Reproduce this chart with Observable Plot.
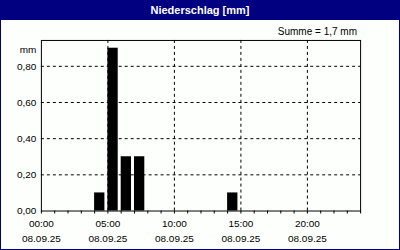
<!DOCTYPE html>
<html>
<head>
<meta charset="utf-8">
<script src="https://cdn.jsdelivr.net/npm/d3@7"></script>
<script src="https://cdn.jsdelivr.net/npm/@observablehq/plot@0.6"></script>
<style>
  html, body { margin: 0; padding: 0; background: #fff; }
  #frame { position: relative; width: 400px; height: 250px; box-sizing: border-box;
           border: 1px solid #000080; border-top: none; background: #fcfffc; overflow: hidden;
           font-family: "Liberation Sans", Arial, sans-serif; }
  #title { position: absolute; left: -1px; top: 0; width: 400px; height: 20px; background: #000080;
           color: #fff; font-weight: bold; font-size: 11px; line-height: 20px; text-align: center; }
  #sum { position: absolute; right: 42px; top: 25px; font-size: 10px; line-height: 13px; color: #000; }
  #chart { position: absolute; left: -1px; top: 20px; }
</style>
</head>
<body>
<div id="frame">
  <div id="title">Niederschlag [mm]</div>
  <div id="sum">Summe = 1,7 mm</div>
  <div id="chart"></div>
</div>
<script>
// Data
const hours = [4, 5, 6, 7, 14];               // start hour of each hourly interval
const precip = [0.1, 0.9, 0.3, 0.3, 0.1];     // mm
const hourTicks = [0,1,2,3,4,5,6,7,8,9,10,11,12,13,14,15,16,17,18,19,20,21,22,23,24];
const labelTicks = [0, 5, 10, 15, 20];
const timeLabels = ["00:00", "05:00", "10:00", "15:00", "20:00"];
const dateLabel = "08.09.25";
const yTicks = [0, 0.2, 0.4, 0.6, 0.8];
const yGrid = [0.2, 0.4, 0.6, 0.8];
const xGrid = [5, 10, 15, 20];

const data = hours.map((h, i) => ({start: h, end: h + 1, value: precip[i]}));
const fmtY = d => d.toFixed(2).replace(".", ",");
const fmtX = d => timeLabels[labelTicks.indexOf(d)] + "\n" + dateLabel;

const chart = Plot.plot({
  width: 400,
  height: 230,
  marginLeft: 41,
  marginRight: 39,
  marginTop: 20,
  marginBottom: 39,
  style: {fontFamily: "Liberation Sans, Arial, sans-serif", fontSize: "10px", color: "#000", background: "transparent"},
  x: {domain: [0, 24], axis: null},
  y: {domain: [0, 0.943], axis: null},
  marks: [
    Plot.gridX(xGrid, {stroke: "#000", strokeOpacity: 1, strokeDasharray: "3,3"}),
    Plot.gridY(yGrid, {stroke: "#000", strokeOpacity: 1, strokeDasharray: "3,3"}),
    Plot.rectY(data, {x1: "start", x2: "end", y: "value", fill: "#000", insetLeft: 0, insetRight: 3}),
    Plot.frame({stroke: "#000"}),
    Plot.axisX({ticks: hourTicks, tickSize: 3, text: null, stroke: "#000"}),
    Plot.axisX({ticks: labelTicks, tickSize: 0, tickPadding: 5, tickFormat: fmtX, lineHeight: 1.5, fill: "#000"}),
    Plot.axisY({ticks: yTicks, tickSize: 0, tickPadding: 5, tickFormat: fmtY, label: null, fill: "#000"}),
    Plot.text(["mm"], {frameAnchor: "top-left", dx: -5, dy: 5, textAnchor: "end", fill: "#000"})
  ]
});
document.getElementById("chart").appendChild(chart);
</script>
</body>
</html>
